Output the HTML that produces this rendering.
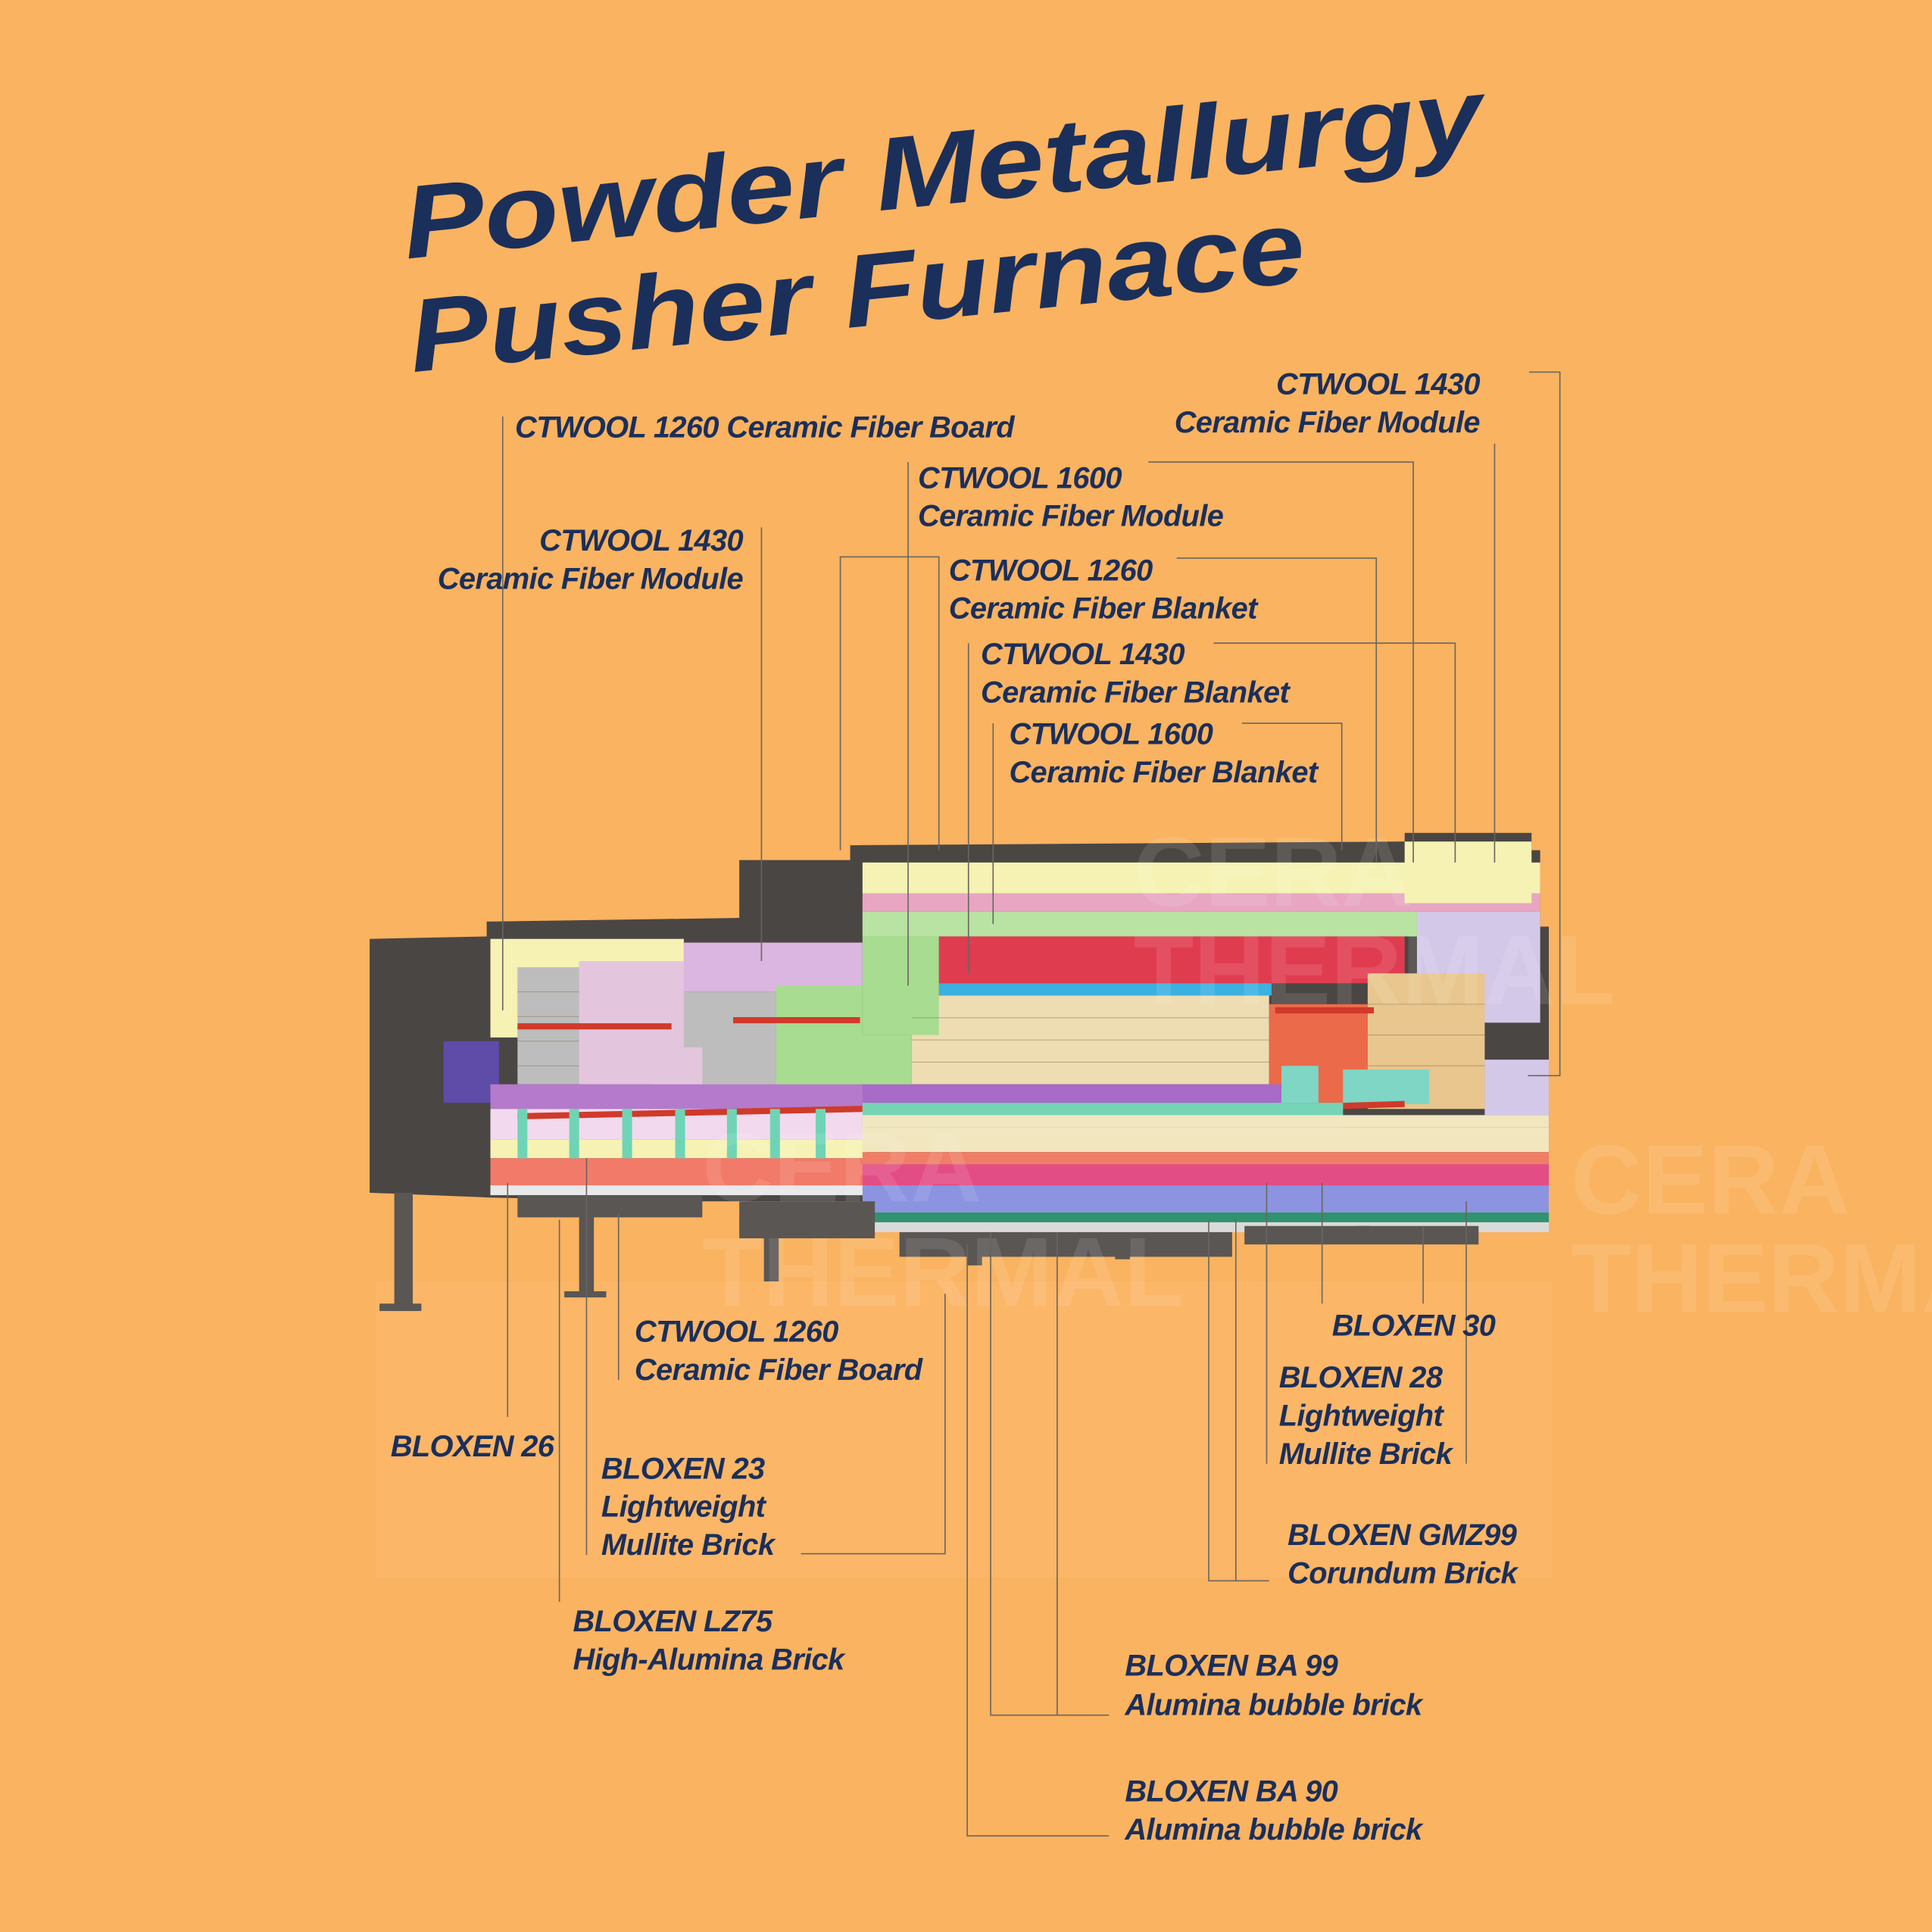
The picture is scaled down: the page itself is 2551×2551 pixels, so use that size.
<!DOCTYPE html>
<html><head><meta charset="utf-8"><style>
html,body{margin:0;padding:0;background:#FAB360;}
svg{display:block}
.t{font-family:"Liberation Sans",sans-serif;font-weight:bold;font-style:italic;fill:#1B2F5B;font-size:24.5px;letter-spacing:-0.4px}
.l{stroke:#6b6560;stroke-width:1;fill:none}
</style></head><body>
<svg width="2551" height="2551" viewBox="0 0 1568 1568" xmlns="http://www.w3.org/2000/svg">
<rect width="1568" height="1568" fill="#FAB360"/>
<g font-family="Liberation Sans, sans-serif" font-weight="bold" font-style="italic" fill="#1B2F5B" font-size="84">
<text x="330" y="210" transform="rotate(-5.8 330 210)" textLength="880" lengthAdjust="spacingAndGlyphs">Powder Metallurgy</text>
<text x="335" y="302" transform="rotate(-5.8 335 302)" textLength="730" lengthAdjust="spacingAndGlyphs">Pusher Furnace</text>
</g>
<rect x="305" y="1040" width="955" height="240" fill="#FBBE76" opacity="0.35"/>
<g>
<polygon points="300,762 395,760 395,748 600,745 600,698 690,698 690,686 1140,683 1140,676 1243,676 1243,690 1250,690 1250,752 1257,752 1257,968 700,975 560,975 400,972 300,968" fill="#4a4644"/>
<rect x="700" y="700" width="550" height="25" fill="#F5F2B4"/>
<rect x="700" y="725" width="550" height="15" fill="#E8A6C2"/>
<rect x="700" y="740" width="450" height="20" fill="#B8E3A2"/>
<rect x="1150" y="740" width="100" height="90" fill="#D4C8E8"/>
<rect x="1140" y="683" width="103" height="50" fill="#F5F2B4"/>
<rect x="762" y="760" width="378" height="38" fill="#E03C50"/>
<rect x="762" y="798" width="270" height="10" fill="#3CB1E0"/>
<rect x="740" y="808" width="290" height="72" fill="#EEDDB2"/>
<rect x="1030" y="815" width="80" height="80" fill="#EB6A4A"/>
<rect x="1110" y="790" width="95" height="110" fill="#E8C68E"/>
<rect x="1205" y="860" width="52" height="45" fill="#D4C8E8"/>
<rect x="700" y="760" width="62" height="80" fill="#A8DC90"/>
<rect x="680" y="840" width="60" height="45" fill="#A8DC90"/>
<rect x="1090" y="868" width="70" height="28" fill="#7FD6C4"/>
<rect x="398" y="762" width="157" height="80" fill="#F5F2B4"/>
<rect x="420" y="785" width="135" height="95" fill="#BDBDBD"/>
<rect x="470" y="780" width="85" height="100" fill="#E4C5DE"/>
<rect x="555" y="765" width="145" height="40" fill="#DBB6E0"/>
<rect x="555" y="805" width="75" height="80" fill="#BDBDBD"/>
<rect x="630" y="800" width="70" height="85" fill="#A8DC90"/>
<rect x="530" y="850" width="40" height="35" fill="#E4C5DE"/>
<rect x="360" y="845" width="45" height="50" fill="#5E4CA8"/>
<rect x="398" y="880" width="305" height="20" fill="#B57ACB"/>
<rect x="398" y="900" width="305" height="25" fill="#F2D9EE"/>
<rect x="398" y="925" width="305" height="15" fill="#F5F2B4"/>
<rect x="398" y="940" width="305" height="22" fill="#F27A68"/>
<rect x="398" y="962" width="305" height="8" fill="#E8E8E8"/>
<g stroke="#D03A2A" stroke-width="5">
<line x1="420" y1="833" x2="545" y2="833"/><line x1="595" y1="828" x2="698" y2="828"/>
<line x1="420" y1="906" x2="700" y2="900"/><line x1="1075" y1="898" x2="1140" y2="896"/>
<line x1="1035" y1="820" x2="1115" y2="820"/>
</g>
<g fill="#6FD4B6"><rect x="420" y="900" width="8" height="40"/><rect x="462" y="900" width="8" height="40"/><rect x="505" y="900" width="8" height="40"/><rect x="548" y="900" width="8" height="40"/><rect x="590" y="900" width="8" height="40"/><rect x="625" y="900" width="8" height="40"/><rect x="662" y="900" width="8" height="40"/></g>
<rect x="700" y="880" width="365" height="15" fill="#A86BC8"/>
<rect x="1040" y="865" width="30" height="30" fill="#7FD6C4"/>
<rect x="700" y="895" width="390" height="20" fill="#74D4B6"/>
<rect x="700" y="905" width="557" height="10" fill="#F0E6C0"/>
<rect x="700" y="915" width="557" height="20" fill="#F2E6BE"/>
<rect x="700" y="935" width="557" height="10" fill="#F07E66"/>
<rect x="700" y="945" width="557" height="17" fill="#E24D86"/>
<rect x="700" y="962" width="557" height="22" fill="#8C93E0"/>
<rect x="700" y="984" width="557" height="8" fill="#2F9270"/>
<rect x="700" y="992" width="557" height="8" fill="#DADADA"/>
<g stroke="#8a7a60" stroke-width="0.6" opacity="0.6">
<line x1="740" y1="826" x2="1030" y2="826"/><line x1="740" y1="844" x2="1030" y2="844"/><line x1="740" y1="862" x2="1030" y2="862"/>
<line x1="420" y1="805" x2="470" y2="805"/><line x1="420" y1="825" x2="470" y2="825"/><line x1="420" y1="845" x2="470" y2="845"/><line x1="420" y1="865" x2="470" y2="865"/>
<line x1="1110" y1="815" x2="1205" y2="815"/><line x1="1110" y1="840" x2="1205" y2="840"/><line x1="1110" y1="865" x2="1205" y2="865"/>
</g>
<g fill="#5a5654">
<rect x="420" y="970" width="150" height="18"/><rect x="600" y="975" width="110" height="30"/><rect x="730" y="1000" width="270" height="20"/><rect x="1010" y="995" width="190" height="15"/>
<rect x="320" y="968" width="15" height="95"/><rect x="470" y="985" width="12" height="65"/><rect x="620" y="1000" width="12" height="40"/><rect x="785" y="1015" width="12" height="12"/><rect x="905" y="1010" width="12" height="12"/><rect x="1100" y="995" width="12" height="12"/>
<rect x="308" y="1058" width="34" height="6"/><rect x="458" y="1048" width="34" height="5"/>
</g>
</g>
<g font-family="Liberation Sans, sans-serif" font-weight="bold" fill="#fff" opacity="0.1" font-size="80">
<text x="920" y="735">CERA</text><text x="920" y="815">THERMAL</text>
<text x="570" y="975">CERA</text><text x="570" y="1060">THERMAL</text>
<text x="1275" y="985">CERA</text><text x="1275" y="1065">THERMAL</text>
</g>
<g class="l">
<polyline points="408,338 408,820"/>
<polyline points="618,428 618,780"/>
<polyline points="737,375 737,800"/>
<polyline points="682,690 682,452 762,452 762,690"/>
<polyline points="955,453 1117,453 1117,700"/>
<polyline points="932,375 1147,375 1147,700"/>
<polyline points="1241,302 1266,302 1266,873 1240,873"/>
<polyline points="1213,360 1213,700"/>
<polyline points="985,522 1181,522 1181,700"/>
<polyline points="786,522 786,790"/>
<polyline points="1008,587 1089,587 1089,690"/>
<polyline points="806,587 806,750"/>
<polyline points="412,960 412,1150"/>
<polyline points="454,990 454,1300"/>
<polyline points="476,940 476,1262"/>
<polyline points="502,985 502,1120"/>
<polyline points="650,1261 767,1261 767,1050"/>
<polyline points="804,1000 804,1392 900,1392"/>
<polyline points="858,1000 858,1392"/>
<polyline points="785,1010 785,1490 900,1490"/>
<polyline points="981,990 981,1283 1030,1283"/>
<polyline points="1003,990 1003,1283"/>
<polyline points="1028,960 1028,1188"/>
<polyline points="1073,960 1073,1058"/>
<polyline points="1155,995 1155,1058"/>
<polyline points="1190,975 1190,1188"/>
</g>
<g class="t">
<text x="418" y="355">CTWOOL 1260 Ceramic Fiber Board</text>
<text x="603" y="447" text-anchor="end">CTWOOL 1430</text>
<text x="603" y="478" text-anchor="end">Ceramic Fiber Module</text>
<text x="1201" y="320" text-anchor="end">CTWOOL 1430</text>
<text x="1201" y="351" text-anchor="end">Ceramic Fiber Module</text>
<text x="745" y="396">CTWOOL 1600</text>
<text x="745" y="427">Ceramic Fiber Module</text>
<text x="770" y="471">CTWOOL 1260</text>
<text x="770" y="502">Ceramic Fiber Blanket</text>
<text x="796" y="539">CTWOOL 1430</text>
<text x="796" y="570">Ceramic Fiber Blanket</text>
<text x="819" y="604">CTWOOL 1600</text>
<text x="819" y="635">Ceramic Fiber Blanket</text>
<text x="515" y="1089">CTWOOL 1260</text>
<text x="515" y="1120">Ceramic Fiber Board</text>
<text x="317" y="1182">BLOXEN 26</text>
<text x="488" y="1200">BLOXEN 23</text>
<text x="488" y="1231">Lightweight</text>
<text x="488" y="1262">Mullite Brick</text>
<text x="465" y="1324">BLOXEN LZ75</text>
<text x="465" y="1355">High-Alumina Brick</text>
<text x="1081" y="1084">BLOXEN 30</text>
<text x="1038" y="1126">BLOXEN 28</text>
<text x="1038" y="1157">Lightweight</text>
<text x="1038" y="1188">Mullite Brick</text>
<text x="1045" y="1254">BLOXEN GMZ99</text>
<text x="1045" y="1285">Corundum Brick</text>
<text x="913" y="1360">BLOXEN BA 99</text>
<text x="913" y="1392">Alumina bubble brick</text>
<text x="913" y="1462">BLOXEN BA 90</text>
<text x="913" y="1493">Alumina bubble brick</text>
</g>
</svg>
</body></html>
